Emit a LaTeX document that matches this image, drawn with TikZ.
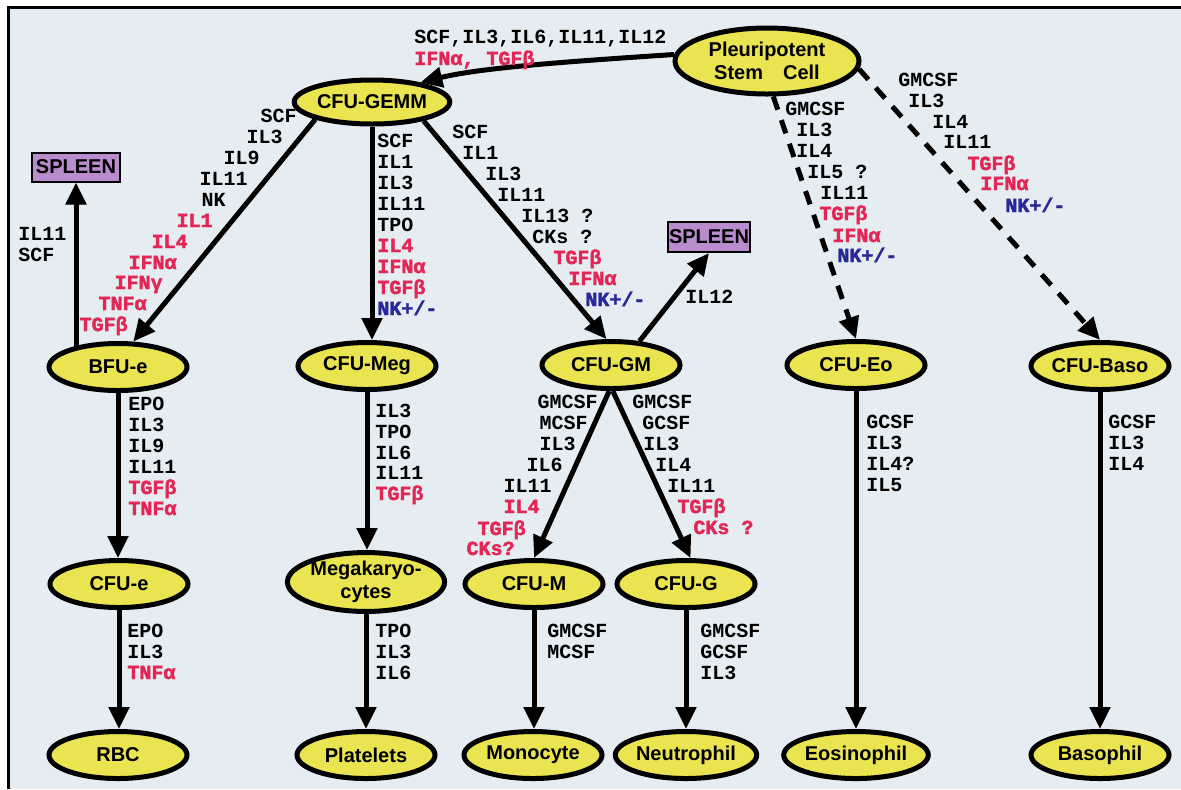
\documentclass[tikz,border=0pt]{standalone}
\usepackage{fontspec}
\usetikzlibrary{arrows.meta,shapes.geometric,calc}
\newfontfamily\labfont{Liberation Mono}
\newfontfamily\redfont{Liberation Mono}[FakeBold=2]
\newfontfamily\cellfont{Liberation Sans}
\definecolor{bg}{RGB}{230,237,242}
\definecolor{cellyellow}{RGB}{233,228,80}
\definecolor{spleenpurple}{RGB}{185,140,205}
\definecolor{labred}{RGB}{226,38,86}
\definecolor{labblue}{RGB}{40,40,150}
\newcommand\nkpm{NK+/-}
\begin{document}
\begin{tikzpicture}[x=0.5pt,y=-0.5pt,
 cell/.style={ellipse, draw=black, fill=cellyellow, line width=2.5pt, minimum width=69pt, minimum height=23.5pt, inner sep=0pt, font=\cellfont\bfseries\fontsize{10}{11.5}\selectfont, align=center},
 spleenbox/.style={rectangle, draw=black, fill=spleenpurple, line width=1pt, minimum width=44pt, minimum height=14.5pt, inner sep=0pt, font=\cellfont\bfseries\fontsize{10}{11}\selectfont},
 arr/.style={line width=2.5pt, -{Triangle[length=11pt,width=10pt]}},
 dasharr/.style={arr, dash pattern=on 7pt off 5.5pt},
 lk/.style={font=\labfont\bfseries\fontsize{10}{10.5}\selectfont, text=black, inner sep=0pt},
 lr/.style={font=\redfont\bfseries\fontsize{10}{10.5}\selectfont, text=labred, inner sep=0pt},
 lb/.style={font=\redfont\bfseries\fontsize{10}{10.5}\selectfont, text=labblue, inner sep=0pt}]
\useasboundingbox (0,0) rectangle (1181,789);
\fill[white] (0,0) rectangle (1181,789);
\fill[bg] (8,7) rectangle (1181,789);
\draw[line width=1.5pt] (8,789) -- (8,7) -- (1181,7);

% cells
\node[cell, minimum width=92pt, minimum height=33pt] (stem) at (767,61) {Pleuripotent\\Stem\quad Cell};
\node[cell, minimum width=66pt, minimum height=22pt] (gemm) at (372,102) {CFU-GEMM};
\node[spleenbox] (spleenA) at (76,167) {SPLEEN};
\node[spleenbox, minimum width=41pt, minimum height=15pt] (spleenB) at (709,237) {SPLEEN};
\node[cell] (bfue) at (118,367) {BFU-e};
\node[cell] (meg) at (367,366) {CFU-Meg};
\node[cell] (gm) at (611,365) {CFU-GM};
\node[cell] (eo) at (856,365) {CFU-Eo};
\node[cell] (baso) at (1100,366) {CFU-Baso};
\node[cell] (cfue) at (119,584) {CFU-e};
\node[cell] (mk) at (366,582) {Megakaryo-\\cytes};
\node[cell] (cfum) at (534,584) {CFU-M};
\node[cell] (cfug) at (686,584) {CFU-G};
\node[cell] (rbc) at (118,755) {RBC};
\node[cell] (plt) at (366,755) {Platelets};
\node[cell] (mono) at (533,755) {Monocyte};
\node[cell] (neut) at (686,755) {Neutrophil};
\node[cell] (eos) at (856,755) {Eosinophil};
\node[cell] (basp) at (1100,755) {Basophil};

% connectors
\draw[arr] (stem.176) .. controls (560,62) and (480,68) .. (gemm.22);
\draw[arr] (gemm.197) -- (bfue.59);
\draw[arr] (gemm.south) -- (gemm.south |- meg.north);
\draw[arr] (gemm.340) -- (gm.100);
\draw[arr] (bfue.156 -| spleenA.south) -- (spleenA.south);
\draw[arr] (gm.40) -- (spleenB.south);
\draw[dasharr] (stem.280) -- (eo.north);
\draw[dasharr] (stem.355) -- (baso.north);
\draw[arr] (bfue.south) -- (bfue.south |- cfue.north);
\draw[arr] (cfue.south) -- (cfue.south |- rbc.north);
\draw[arr] (meg.south) -- (meg.south |- mk.north);
\draw[arr] (mk.south) -- (mk.south |- plt.north);
\draw[arr] (gm.266) -- (cfum.north);
\draw[arr] (gm.274) -- (cfug.80);
\draw[arr] (cfum.south) -- (cfum.south |- mono.north);
\draw[arr] (cfug.south) -- (cfug.south |- neut.north);
\draw[arr] (eo.south) -- (eo.south |- eos.north);
\draw[arr] (baso.south) -- (baso.south |- basp.north);

% labels
\node[lk, anchor=base west] (ta1) at (414,43) {SCF,IL3,IL6,IL11,IL12};
\node[lr, anchor=base west] (ta2) at (414,65) {IFNα,~TGFβ};

\foreach \x/\y/\t/\s [count=\i] in {297/122/SCF/lk, 283/143/IL3/lk, 260/164/IL9/lk, 248/185/IL11/lk, 226/206/NK/lk, 213/227/IL1/lr, 188/248/IL4/lr, 177/269/IFNα/lr, 163/289/IFNγ/lr, 147/310/TNFα/lr, 128/331/TGFβ/lr}
  \node[\s, anchor=base east] (gb\i) at (\x,\y) {\t};

\node[lk, anchor=base west] (sp1) at (18,240) {IL11};
\node[lk, anchor=base west] (sp2) at (18,261) {SCF};

\foreach \x/\y/\t/\s [count=\i] in {377/147/SCF/lk, 377/168/IL1/lk, 377/189/IL3/lk, 377/210/IL11/lk, 377/231/TPO/lk, 377/252/IL4/lr, 377/273/IFNα/lr, 377/294/TGFβ/lr, 377/315/\nkpm/lb}
  \node[\s, anchor=base west] (gmg\i) at (\x,\y) {\t};

\foreach \x/\y/\t/\s [count=\i] in {452/138/SCF/lk, 462/159/IL1/lk, 485/180/IL3/lk, 497/201/IL11/lk, 521/222/{IL13 ?}/lk, 532/243/{CKs ?}/lk, 553/264/TGFβ/lr, 568/285/IFNα/lr, 585/306/\nkpm/lb}
  \node[\s, anchor=base west] (gg\i) at (\x,\y) {\t};

\node[lk, anchor=base west] (il12) at (685,303) {IL12};

\foreach \x/\y/\t/\s [count=\i] in {785/115/GMCSF/lk, 796/136/IL3/lk, 796/157/IL4/lk, 807/178/{IL5 ?}/lk, 820/199/IL11/lk, 819/220/TGFβ/lr, 832/242/IFNα/lr, 837/262/\nkpm/lb}
  \node[\s, anchor=base west] (se\i) at (\x,\y) {\t};

\foreach \x/\y/\t/\s [count=\i] in {898/86/GMCSF/lk, 908/107/IL3/lk, 932/128/IL4/lk, 943/148/IL11/lk, 967/170/TGFβ/lr, 980/190/IFNα/lr, 1005/212/\nkpm/lb}
  \node[\s, anchor=base west] (sb\i) at (\x,\y) {\t};

\foreach \x/\y/\t/\s [count=\i] in {128/410/EPO/lk, 128/431/IL3/lk, 128/452/IL9/lk, 128/473/IL11/lk, 128/494/TGFβ/lr, 128/515/TNFα/lr}
  \node[\s, anchor=base west] (be\i) at (\x,\y) {\t};

\foreach \x/\y/\t/\s [count=\i] in {375/417/IL3/lk, 375/438/TPO/lk, 375/459/IL6/lk, 375/479/IL11/lk, 375/500/TGFβ/lr}
  \node[\s, anchor=base west] (mm\i) at (\x,\y) {\t};

\foreach \x/\y/\t/\s [count=\i] in {598/408/GMCSF/lk, 588/429/MCSF/lk, 576/450/IL3/lk, 563/471/IL6/lk, 552/492/IL11/lk, 540/513/IL4/lr, 526/535/TGFβ/lr, 515/555/CKs?/lr}
  \node[\s, anchor=base east] (gcm\i) at (\x,\y) {\t};

\foreach \x/\y/\t/\s [count=\i] in {632/408/GMCSF/lk, 642/429/GCSF/lk, 643/450/IL3/lk, 655/471/IL4/lk, 667/492/IL11/lk, 677/513/TGFβ/lr, 693/534/{CKs ?}/lr}
  \node[\s, anchor=base west] (gcg\i) at (\x,\y) {\t};

\foreach \x/\y/\t/\s [count=\i] in {127/637/EPO/lk, 127/658/IL3/lk, 127/679/TNFα/lr}
  \node[\s, anchor=base west] (er\i) at (\x,\y) {\t};
\foreach \x/\y/\t/\s [count=\i] in {375/637/TPO/lk, 375/658/IL3/lk, 375/679/IL6/lk}
  \node[\s, anchor=base west] (mp\i) at (\x,\y) {\t};
\foreach \x/\y/\t/\s [count=\i] in {547/637/GMCSF/lk, 547/658/MCSF/lk}
  \node[\s, anchor=base west] (mo\i) at (\x,\y) {\t};
\foreach \x/\y/\t/\s [count=\i] in {700/637/GMCSF/lk, 700/658/GCSF/lk, 700/679/IL3/lk}
  \node[\s, anchor=base west] (ne\i) at (\x,\y) {\t};
\foreach \x/\y/\t/\s [count=\i] in {866/428/GCSF/lk, 866/449/IL3/lk, 866/470/IL4?/lk, 866/491/IL5/lk}
  \node[\s, anchor=base west] (eq\i) at (\x,\y) {\t};
\foreach \x/\y/\t/\s [count=\i] in {1108/428/GCSF/lk, 1108/449/IL3/lk, 1108/470/IL4/lk}
  \node[\s, anchor=base west] (ba\i) at (\x,\y) {\t};
\end{tikzpicture}
\end{document}
